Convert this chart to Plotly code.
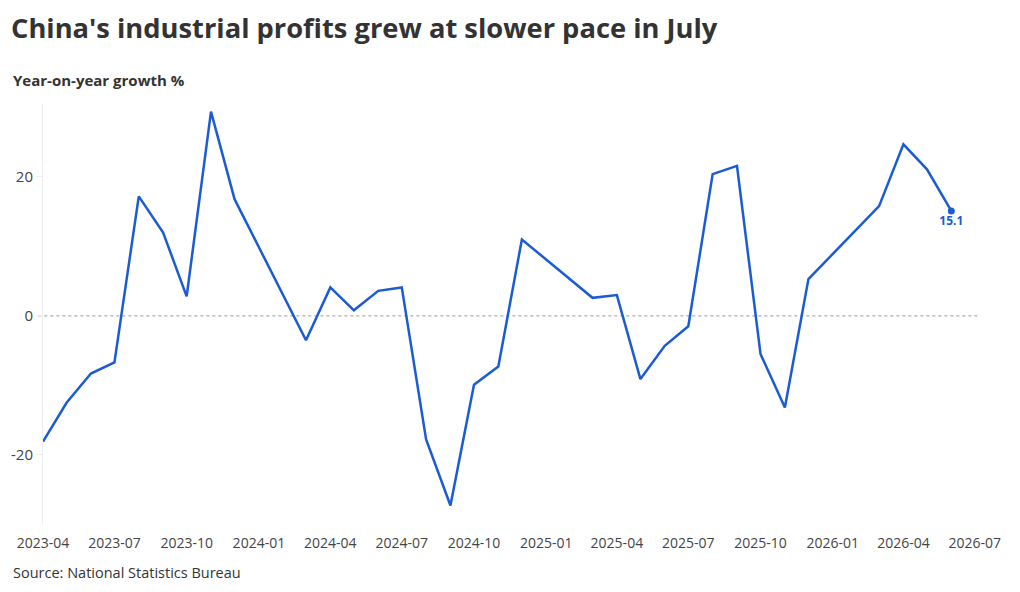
"""China's industrial profits, year-on-year growth line chart."""
import plotly.graph_objects as go

months = [
    "2023-04", "2023-05", "2023-06", "2023-07", "2023-08", "2023-09",
    "2023-10", "2023-11", "2023-12",
    "2024-03", "2024-04", "2024-05", "2024-06", "2024-07", "2024-08",
    "2024-09", "2024-10", "2024-11", "2024-12",
    "2025-03", "2025-04", "2025-05", "2025-06", "2025-07", "2025-08",
    "2025-09", "2025-10", "2025-11", "2025-12",
    "2026-03", "2026-04", "2026-05", "2026-06",
]
growth = [
    -18.1, -12.5, -8.3, -6.7, 17.2, 12.0,
    2.8, 29.4, 16.8,
    -3.5, 4.1, 0.8, 3.6, 4.1, -17.8,
    -27.3, -9.9, -7.3, 11.0,
    2.6, 3.0, -9.1, -4.3, -1.5, 20.4,
    21.6, -5.5, -13.2, 5.3,
    15.8, 24.7, 21.1, 15.1,
]
y_ticks = [-20, 0, 20]
y_labels = ["-20", "0", "20"]

BLUE = "#1b5bd4"
TEXT = "#333333"
FONT = "Open Sans"

# the html page body has an 8px margin, so the figure is a bit smaller
W, H = 1012, 584

dates = [m + "-01" for m in months]

fig = go.Figure()
fig.add_trace(
    go.Scatter(
        x=dates,
        y=growth,
        mode="lines",
        line=dict(color=BLUE, width=2.5),
        hoverinfo="x+y",
    )
)
# last value highlighted
fig.add_trace(
    go.Scatter(
        x=[dates[-1]],
        y=[growth[-1]],
        mode="markers+text",
        marker=dict(color=BLUE, size=7),
        text=[f"{growth[-1]:.1f}"],
        textposition="bottom center",
        textfont=dict(family=FONT, size=12, color=BLUE, weight="bold"),
    )
)

fig.add_shape(
    type="line", xref="paper", yref="y", x0=-0.005, x1=1, y0=0, y1=0,
    line=dict(color="#999999", width=1, dash="dot"), layer="below",
)

fig.update_layout(
    width=W,
    height=H,
    showlegend=False,
    plot_bgcolor="white",
    paper_bgcolor="white",
    margin=dict(l=35, r=42, t=96, b=67),
    font=dict(family=FONT, size=13, color="#444444"),
    title=dict(
        text="<b>China's industrial profits grew at slower pace in July</b>",
        x=3 / W, xanchor="left", xref="container",
        y=1 - 20 / H, yanchor="middle", yref="container",
        font=dict(family=FONT, size=27.3, color=TEXT),
    ),
    annotations=[
        dict(
            text="<b>Year-on-year growth %</b>",
            xref="paper", yref="paper", x=-32 / 935, y=1 + 24 / 421,
            xanchor="left", yanchor="middle", showarrow=False,
            font=dict(family=FONT, size=15, color=TEXT),
        ),
        dict(
            text="Source: National Statistics Bureau",
            xref="paper", yref="paper", x=-32 / 935, y=-47 / 421,
            xanchor="left", yanchor="middle", showarrow=False,
            font=dict(family=FONT, size=14.5, color=TEXT),
        ),
    ],
)
fig.update_xaxes(
    type="date",
    range=["2023-04-01", "2026-07-05"],
    dtick="M3",
    tick0="2023-04-01",
    tickformat="%Y-%m",
    showgrid=False,
    showline=False,
    zeroline=False,
    ticks="outside",
    ticklen=5,
    tickcolor="rgba(0,0,0,0)",
    automargin=False,
    tickfont=dict(size=14, color="#444444"),
)
fig.update_yaxes(
    range=[-30.1, 30.5],
    tickvals=y_ticks,
    ticktext=y_labels,
    showgrid=False,
    zeroline=False,
    showline=True,
    linecolor="#eeeeee",
    linewidth=1,
    ticks="outside",
    ticklen=6,
    tickcolor="#eeeeee",
    automargin=False,
    tickfont=dict(size=15, color="#444444"),
)

fig.write_html("out.html")
